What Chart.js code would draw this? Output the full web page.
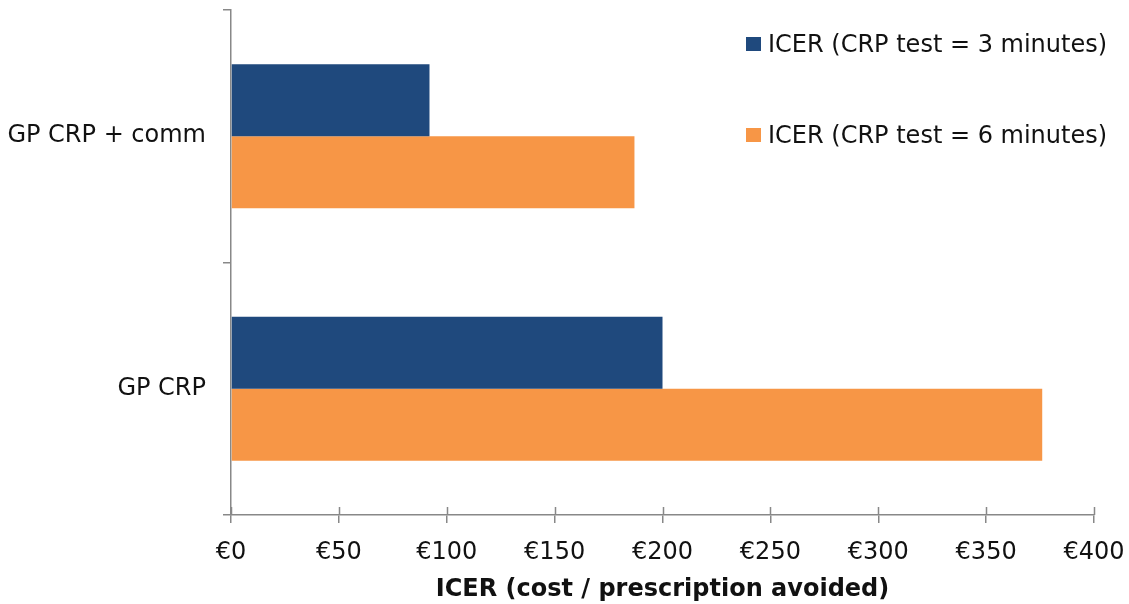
<!DOCTYPE html>
<html>
<head>
<meta charset="utf-8">
<script src="https://cdn.jsdelivr.net/npm/chart.js@4"></script>
<style>
  html, body { margin: 0; padding: 0; background: #fff; }
  #wrap { position: relative; width: 1129px; height: 604px; }
  #legend { position: absolute; left: 746px; top: 29px; font-family: "DejaVu Sans", sans-serif; font-size: 24px; color: #111; }
  .item { display: flex; align-items: center; height: 30px; white-space: nowrap; }
  .sw { width: 15px; height: 14px; margin-right: 7px; }
</style>
</head>
<body>
<div id="wrap">
  <canvas id="c" width="1129" height="604"></canvas>
  <div id="legend"></div>
</div>
<script>
const categories = ["GP CRP + comm", "GP CRP"];
const seriesLabels = ["ICER (CRP test = 3 minutes)", "ICER (CRP test = 6 minutes)"];
const icer3min = [92, 200];
const icer6min = [187, 376];
const xTicks = [0, 50, 100, 150, 200, 250, 300, 350, 400];
const axisTitle = "ICER (cost / prescription avoided)";
const colors = ["#1F497D", "#F79646"];

const FONT = "'DejaVu Sans', sans-serif";
const AXIS = "#888888";

const innerTicks = {
  id: "innerTicks",
  afterDraw(chart) {
    const ctx = chart.ctx, xs = chart.scales.x, ys = chart.scales.y;
    ctx.save();
    ctx.strokeStyle = AXIS;
    ctx.lineWidth = 1.5;
    ctx.beginPath();
    xTicks.forEach(v => {
      const px = Math.round(xs.getPixelForValue(v)) + 0.5;
      ctx.moveTo(px, ys.bottom);
      ctx.lineTo(px, ys.bottom - 8);
    });
    ctx.stroke();
    ctx.restore();
  }
};

const chart = new Chart(document.getElementById("c"), {
  type: "bar",
  data: {
    labels: categories,
    datasets: [
      { label: seriesLabels[0], data: icer3min, backgroundColor: colors[0] },
      { label: seriesLabels[1], data: icer6min, backgroundColor: colors[1] }
    ]
  },
  options: {
    indexAxis: "y",
    responsive: false,
    animation: false,
    devicePixelRatio: 1,
    layout: { padding: { top: 10, right: 35, left: 0, bottom: 0 } },
    datasets: { bar: { categoryPercentage: 0.57, barPercentage: 1.0 } },
    plugins: { legend: { display: false }, tooltip: { enabled: false } },
    scales: {
      x: {
        min: 0, max: 400,
        afterBuildTicks(scale) { scale.ticks = xTicks.map(v => ({ value: v })); },
        afterFit(scale) { scale.height = 89; scale.paddingLeft = 0; scale.paddingRight = 0; },
        border: { color: AXIS, width: 1.5 },
        grid: { drawOnChartArea: false, tickLength: 8, color: AXIS, lineWidth: 1.5 },
        ticks: {
          color: "#111", padding: 15,
          font: { family: FONT, size: 24 },
          callback: v => "€" + v
        },
        title: {
          display: true, text: axisTitle, color: "#111",
          font: { family: FONT, size: 24, weight: "bold" },
          padding: { top: 0, bottom: 0 }
        }
      },
      y: {
        afterFit(scale) { scale.width = 231; scale.paddingTop = 0; scale.paddingBottom = 0; },
        border: { color: AXIS, width: 1.5 },
        grid: { drawOnChartArea: false, tickLength: 8, color: AXIS, lineWidth: 1.5, offset: true },
        ticks: { color: "#111", padding: 17, font: { family: FONT, size: 24 } }
      }
    }
  },
  plugins: [innerTicks]
});

const lg = document.getElementById("legend");
seriesLabels.forEach((t, i) => {
  const d = document.createElement("div");
  d.className = "item";
  d.style.marginBottom = i === 0 ? "61px" : "0";
  d.innerHTML = '<div class="sw" style="background:' + colors[i] + '"></div><span></span>';
  d.querySelector("span").textContent = t;
  lg.appendChild(d);
});
</script>
</body>
</html>
